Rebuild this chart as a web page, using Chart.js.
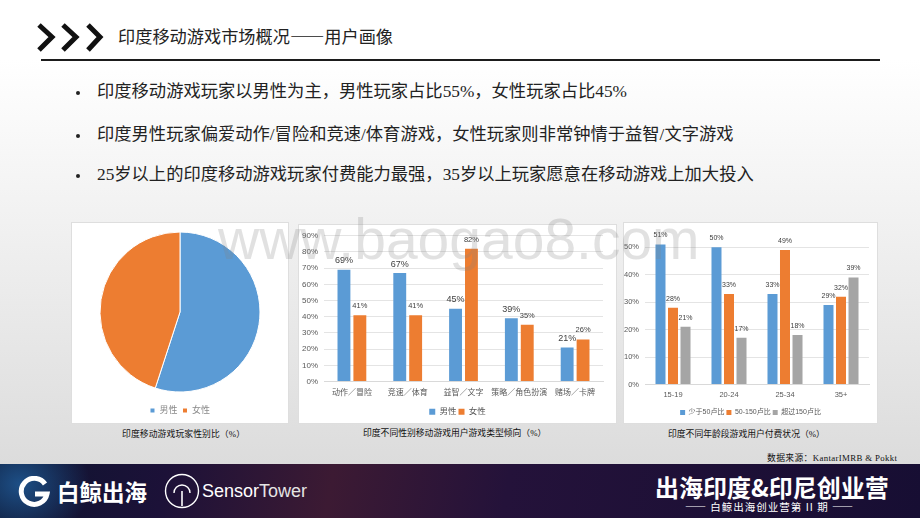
<!DOCTYPE html>
<html lang="zh">
<head>
<meta charset="utf-8">
<title>印度移动游戏市场概况</title>
<script src="https://cdn.jsdelivr.net/npm/chart.js@4"></script>
<style>
    html, body { margin: 0; padding: 0; }
    body {
        position: relative;
        width: 920px;
        height: 518px;
        overflow: hidden;
        font-family: "Liberation Serif", "Noto Sans CJK SC", serif;
        color: #222;
        background: linear-gradient(#ffffff 0, #ffffff 60px, #dcdcdc 464px);
    }
    .abs { position: absolute; white-space: nowrap; }
    .card { position: absolute; background: #fff; border: 1px solid #dedede; box-sizing: border-box; }
    .card canvas { position: absolute; left: 0; top: 0; }
    .titulo { left: 118px; top: 24px; font-size: 17.2px; line-height: 24px; }
    .regla { left: 41px; top: 59px; width: 839px; height: 2px; background: #1c1c1c; }
    .punto { font-size: 17.3px; line-height: 24px; left: 97px; }
    .punto::before {
        content: ""; position: absolute; left: -21px; top: 11px;
        width: 4px; height: 4px; border-radius: 50%; background: #222;
    }
    .pie { font-size: 8.8px; line-height: 12px; color: #111; }
    .marca {
        left: 218px; top: 204px; font: 57px/70px "Liberation Sans", sans-serif;
        color: rgba(130, 130, 130, 0.24); z-index: 5;
    }
    .banda {
        position: absolute; left: 0; top: 464px; width: 920px; height: 54px;
        background:
            radial-gradient(ellipse 70px 60px at 20px 20px, #1d4f86 0, rgba(29, 79, 134, 0) 100%),
            linear-gradient(100deg, #0d1530 0, #1c1138 18%, #3c1a33 36%, #24123a 55%, #170e33 100%);
        color: #fff;
        font-family: "Noto Sans CJK SC", sans-serif;
    }
</style>
</head>
<body>
<svg class="abs" style="left:36px;top:22px" width="70" height="30" viewBox="0 0 70 30">
    <path d="M3 3 L16 15 L3 28" fill="none" stroke="#111" stroke-width="5"/>
    <path d="M27 3 L40 15 L27 28" fill="none" stroke="#111" stroke-width="5"/>
    <path d="M52 3 L64 15 L52 28" fill="none" stroke="#111" stroke-width="5"/>
</svg>
<div class="abs titulo" style="font-family:'Noto Sans CJK SC'">印度移动游戏市场概况——用户画像</div>
<div class="abs regla"></div>

<div class="abs punto" style="top:80px">印度移动游戏玩家以男性为主，男性玩家占比55%，女性玩家占比45%</div>
<div class="abs punto" style="top:123px">印度男性玩家偏爱动作/冒险和竞速/体育游戏，女性玩家则非常钟情于益智/文字游戏</div>
<div class="abs punto" style="top:163px">25岁以上的印度移动游戏玩家付费能力最强，35岁以上玩家愿意在移动游戏上加大投入</div>

<div class="card" style="left:71px;top:222px;width:218px;height:202px"><canvas id="graficoPastel"></canvas></div>
<div class="card" style="left:298px;top:224px;width:319px;height:200px"><canvas id="graficoGenero"></canvas></div>
<div class="card" style="left:623px;top:222px;width:255px;height:202px"><canvas id="graficoEdad"></canvas></div>

<div class="abs pie" style="left:122px;top:428px;letter-spacing:0.1px">印度移动游戏玩家性别比（%）</div>
<div class="abs pie" style="left:363px;top:427px">印度不同性别移动游戏用户游戏类型倾向（%）</div>
<div class="abs pie" style="left:668px;top:428px">印度不同年龄段游戏用户付费状况（%）</div>
<div class="abs pie" style="left:767px;top:452px;letter-spacing:0.35px">数据来源：KantarIMRB &amp; Pokkt</div>

<div class="abs marca">www.baogao8.com</div>

<div class="banda">
    <svg class="abs" style="left:18px;top:12px" width="32" height="32" viewBox="0 0 32 32">
        <path d="M27 8 A13 13 0 1 0 29 18 L17 18" fill="none" stroke="#fff" stroke-width="5"/>
    </svg>
    <div class="abs" style="left:57px;top:12px;font-size:22.5px;line-height:30px;font-weight:700">白鲸出海</div>
    <svg class="abs" style="left:164px;top:9px" width="36" height="36" viewBox="0 0 36 36">
        <circle cx="18" cy="18" r="16.5" fill="none" stroke="#fff" stroke-width="1.4"/>
        <path d="M10 20 A8 8 0 1 1 26 20" fill="none" stroke="#fff" stroke-width="1.4"/>
        <path d="M18 18 V33" stroke="#fff" stroke-width="1.6"/>
    </svg>
    <div class="abs" style="left:202px;top:13px;font:18px/28px 'Liberation Sans',sans-serif">Sensor<span style="font-weight:300;color:#e4e4e4">Tower</span></div>
    <div class="abs" style="left:655px;top:7px;font-size:24px;line-height:32px;font-weight:700">出海印度&amp;印尼创业营</div>
    <div class="abs" style="left:685px;top:36px;font-size:10.5px;line-height:14px;letter-spacing:1px">—— 白鲸出海创业营第 II 期 ——</div>
</div>

<script>
const generoPastel = ["男性", "女性"];
const valoresPastel = [55, 45];

const tiposJuego = ["动作／冒险", "竞速／体育", "益智／文字", "策略／角色扮演", "赌场／卡牌"];
const valoresMasculino = [69, 67, 45, 39, 21];
const valoresFemenino = [41, 41, 82, 35, 26];
const ticksGenero = [0, 10, 20, 30, 40, 50, 60, 70, 80, 90];

const gruposEdad = ["15-19", "20-24", "25-34", "35+"];
const valoresBajo = [51, 50, 33, 29];
const valoresMedio = [28, 33, 49, 32];
const valoresAlto = [21, 17, 18, 39];
const ticksEdad = [0, 10, 20, 30, 40, 50];

const AZUL = "#5b9bd5";
const NARANJA = "#ed7d31";
const GRIS = "#a5a5a5";

Chart.defaults.font.family = '"Liberation Sans", "Noto Sans CJK SC", sans-serif';
Chart.defaults.color = "#595959";
Chart.defaults.animation = false;

// Escribe el valor encima de cada barra.
const etiquetasBarras = {
    id: "etiquetasBarras",
    afterDatasetsDraw(chart, args, opciones) {
        const { ctx } = chart;
        ctx.save();
        ctx.textAlign = "center";
        ctx.textBaseline = "middle";
        ctx.fillStyle = "#404040";
        chart.data.datasets.forEach((dataset, i) => {
            ctx.font = `${opciones.tamanos[i]}px "Liberation Sans"`;
            chart.getDatasetMeta(i).data.forEach((barra, j) => {
                ctx.fillText(`${dataset.data[j]}%`, barra.x, barra.y - 9);
            });
        });
        ctx.restore();
    }
};

const opcionesLeyenda = (tamano, caja, relleno, color) => ({
    position: "bottom",
    labels: { boxWidth: caja, boxHeight: caja, padding: relleno, font: { size: tamano }, color: color }
});

function dibujarBarras(canvasId, ancho, alto, etiquetas, series, ticks, maximo, medidas) {
    const canvas = document.getElementById(canvasId);
    canvas.width = ancho;
    canvas.height = alto;

    new Chart(canvas, {
        type: "bar",
        data: {
            labels: etiquetas,
            datasets: series.map(s => ({
                label: s.nombre,
                data: s.valores,
                backgroundColor: s.color,
                categoryPercentage: medidas.categoria,
                barPercentage: medidas.barra
            }))
        },
        options: {
            responsive: false,
            layout: { padding: medidas.relleno },
            plugins: {
                legend: opcionesLeyenda(medidas.leyenda, medidas.caja, 2, "#595959"),
                tooltip: { enabled: false },
                etiquetasBarras: { tamanos: medidas.tamanos }
            },
            scales: {
                x: {
                    grid: { display: false, drawTicks: false },
                    border: { color: "#d9d9d9" },
                    ticks: { font: { size: medidas.fuenteX }, padding: 6, maxRotation: 0, autoSkip: false },
                    afterFit: escala => { escala.height = medidas.altoX; }
                },
                y: {
                    min: 0,
                    max: maximo,
                    afterBuildTicks: escala => { escala.ticks = ticks.map(v => ({ value: v })); },
                    grid: { color: "#e4e4e4", drawTicks: false },
                    border: { display: false },
                    ticks: { font: { size: medidas.fuenteY }, padding: 6, callback: v => `${v}%` },
                    afterFit: escala => { escala.width = medidas.anchoY; }
                },
                // Eje vacío: deja margen a la derecha sin descentrar la leyenda.
                margen: {
                    position: "right",
                    grid: { display: false },
                    border: { display: false },
                    ticks: { display: false },
                    afterFit: escala => { escala.width = medidas.margenDerecho; }
                }
            }
        },
        plugins: [etiquetasBarras]
    });
}

const canvasPastel = document.getElementById("graficoPastel");
canvasPastel.width = 216;
canvasPastel.height = 200;

new Chart(canvasPastel, {
    type: "pie",
    data: {
        labels: generoPastel,
        datasets: [{
            data: valoresPastel,
            backgroundColor: [AZUL, NARANJA],
            borderColor: "#fff",
            borderWidth: 1,
            radius: 80
        }]
    },
    options: {
        responsive: false,
        layout: { padding: { top: 0, bottom: -2 } },
        plugins: {
            legend: opcionesLeyenda(9, 5, 5, "#8a8a8a"),
            tooltip: { enabled: false }
        }
    }
});

dibujarBarras("graficoGenero", 317, 198, tiposJuego, [
    { nombre: "男性", valores: valoresMasculino, color: AZUL },
    { nombre: "女性", valores: valoresFemenino, color: NARANJA }
], ticksGenero, 90, {
    categoria: 0.57, barra: 0.81, anchoY: 25, margenDerecho: 13, altoX: 24, fuenteX: 8, fuenteY: 8, leyenda: 8.5, caja: 6,
    tamanos: [9, 7.5], relleno: { top: 9, bottom: -3 }
});

dibujarBarras("graficoEdad", 253, 200, gruposEdad, [
    { nombre: "少于50卢比", valores: valoresBajo, color: AZUL },
    { nombre: "50-150卢比", valores: valoresMedio, color: NARANJA },
    { nombre: "超过150卢比", valores: valoresAlto, color: GRIS }
], ticksEdad, 55, {
    categoria: 0.67, barra: 0.8, anchoY: 21, margenDerecho: 8, altoX: 22.5, fuenteX: 7.5, fuenteY: 7.5, leyenda: 7, caja: 5,
    tamanos: [7, 7, 7], relleno: { top: 9, bottom: -3 }
});
</script>
</body>
</html>
